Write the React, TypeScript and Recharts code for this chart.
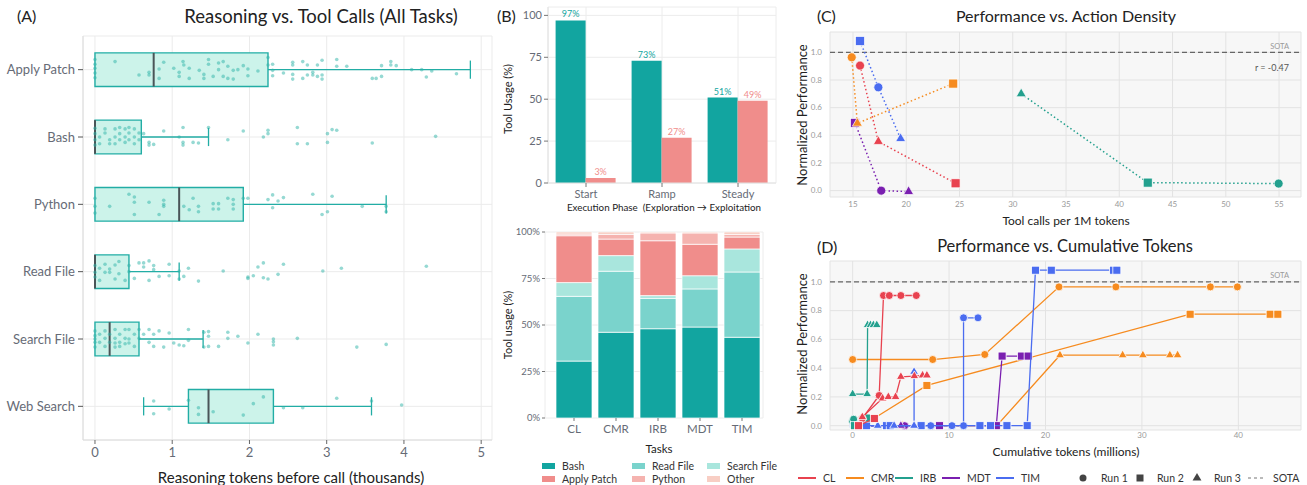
import React from 'react';
import {
  ScatterChart, Scatter, XAxis, YAxis, CartesianGrid, ReferenceArea, ReferenceLine,
  BarChart, Bar, LabelList,
} from 'recharts';

// ---------------- Panel A data ----------------
const toolNames = ['Apply Patch', 'Bash', 'Python', 'Read File', 'Search File', 'Web Search'];
const boxQ1 = [0, 0, 0, 0, 0, 1.21];
const boxMedian = [0.76, 0, 1.09, 0, 0.19, 1.47];
const boxQ3 = [2.24, 0.6, 1.92, 0.44, 0.57, 2.31];
const whiskerLow = [0, 0, 0, 0, 0, 0.63];
const whiskerHigh = [4.86, 1.47, 3.77, 1.09, 1.4, 3.58];

const jitterApplyPatch = [[0,0.15],[0,0.08],[0,0.02],[0,-0.05],[0,-0.12],[0.26,0.12],[0.57,-0.08],[0.70,-0.04],[0.70,-0.08],[0.83,0.01],[0.83,-0.13],[0.89,0.11],[1.02,0.02],[1.09,-0.04],[1.09,-0.10],[1.14,0.12],[1.15,0.07],[1.22,0.02],[1.22,-0.13],[1.35,-0.01],[1.41,-0.07],[1.41,-0.13],[1.47,0.15],[1.47,0.08],[1.53,-0.10],[1.60,0.10],[1.60,0.0],[1.66,0.12],[1.66,-0.10],[1.72,0.05],[1.72,-0.13],[1.79,-0.01],[1.79,-0.14],[1.85,0],[1.92,0.06],[1.98,0.01],[1.98,-0.09],[2.11,-0.02],[2.24,0.18],[2.24,0.07],[2.30,0.08],[2.30,-0.01],[2.30,-0.09],[2.44,-0.05],[2.56,0.11],[2.56,0.07],[2.56,-0.07],[2.56,-0.14],[2.69,0.12],[2.69,-0.13],[2.75,0.07],[2.75,-0.08],[2.82,-0.04],[2.82,-0.08],[2.88,0.07],[2.88,-0.10],[2.94,0.14],[2.94,-0.08],[2.94,-0.14],[3.13,0.15],[3.13,0.05],[3.26,0.05],[3.59,-0.13],[3.64,-0.13],[3.71,0.06],[3.71,-0.10],[3.83,0.12],[3.83,0.07],[3.90,0.06],[4.10,0],[4.23,0],[4.29,-0.11],[4.36,-0.02],[4.68,-0.06]];
const jitterBash = [[0,0.13],[0,0.05],[0,-0.04],[0,-0.12],[0.06,-0.10],[0.06,0],[0.13,0.12],[0.13,0.06],[0.19,-0.04],[0.19,-0.10],[0.26,0.12],[0.26,0],[0.26,-0.10],[0.32,0.14],[0.32,0.05],[0.32,-0.04],[0.39,0.12],[0.39,0],[0.39,-0.08],[0.44,0.14],[0.44,0.06],[0.44,-0.04],[0.51,0.12],[0.51,0],[0.51,-0.10],[0.57,0.06],[0.57,-0.04],[0.63,0.05],[0.70,-0.08],[0.70,-0.12],[0.76,-0.11],[0.89,0.09],[1.09,0],[1.14,0.14],[1.14,-0.08],[1.14,-0.12],[1.27,-0.08],[1.34,-0.09],[1.47,0.14],[1.72,-0.04],[1.92,0.09],[2.18,0],[2.24,0.10],[2.24,0.05],[2.62,0.14],[2.62,-0.10],[2.75,-0.10],[3.01,-0.08],[3.01,0.05],[3.07,0.11],[3.13,0.10],[3.59,-0.09],[4.41,0.01]];
const jitterPython = [[0,0.09],[0,-0.03],[0,-0.13],[0.19,-0.03],[0.44,0.15],[0.51,0.11],[0.51,0.03],[0.51,-0.15],[0.70,0.03],[0.83,-0.15],[0.89,0.06],[0.89,0],[0.89,-0.03],[1.15,-0.03],[1.22,-0.08],[1.27,0.09],[1.34,-0.03],[1.34,-0.11],[1.53,0.01],[1.53,-0.07],[1.60,0.01],[1.60,-0.07],[1.72,0.09],[1.79,0.07],[1.79,0],[1.79,-0.07],[1.92,0.09],[1.98,0.09],[2.24,0.07],[2.30,0.14],[2.30,-0.05],[2.37,0.05],[2.44,0.10],[2.82,0.15],[2.94,-0.15],[3.01,-0.11],[3.07,0.12],[3.46,-0.03],[3.77,-0.03],[3.77,-0.11]];
const jitterReadFile = [[0,0.09],[0,-0.01],[0,-0.08],[0.06,0.05],[0.06,-0.13],[0.13,0.11],[0.13,-0.01],[0.19,0.04],[0.19,-0.01],[0.26,0.10],[0.26,-0.11],[0.31,0.15],[0.31,-0.03],[0.39,-0.13],[0.44,0.09],[0.44,0],[0.51,-0.10],[0.57,0.13],[0.63,0.13],[0.63,0.07],[0.70,0.16],[0.70,-0.13],[0.76,0.09],[0.76,0.03],[0.83,-0.07],[0.96,0.11],[0.96,-0.06],[1.09,0.01],[1.09,-0.11],[1.15,-0.07],[1.21,0.05],[1.34,-0.14],[1.66,0.01],[1.98,-0.08],[1.98,-0.10],[2.05,-0.06],[2.11,0.07],[2.18,0.13],[2.18,-0.09],[2.24,-0.11],[2.37,-0.04],[2.44,0.11],[2.95,0.01],[3.19,0.05],[4.29,0.08]];
const jitterSearchFile = [[0,0.12],[0,0.05],[0,0],[0,-0.05],[0,-0.12],[0.06,0.07],[0.06,-0.05],[0.13,0.12],[0.13,0.01],[0.13,-0.11],[0.19,0.07],[0.19,-0.05],[0.26,0.14],[0.26,0.01],[0.26,-0.06],[0.26,-0.12],[0.32,0.07],[0.32,-0.05],[0.32,-0.11],[0.39,0.14],[0.39,0.01],[0.39,-0.07],[0.44,0.14],[0.44,0],[0.44,-0.06],[0.51,0.07],[0.51,-0.11],[0.57,0.14],[0.57,0.01],[0.63,0.07],[0.70,0.14],[0.70,-0.05],[0.76,0.07],[0.76,-0.11],[0.83,0.12],[0.89,-0.12],[0.96,0.09],[1.02,-0.06],[1.09,-0.09],[1.15,-0.10],[1.21,0.14],[1.21,-0.02],[1.41,-0.12],[1.41,0.10],[1.47,0.11],[1.47,0.04],[1.47,-0.11],[1.60,-0.11],[1.72,0.10],[1.72,0.01],[1.85,0.04],[1.98,-0.06],[2.11,0.07],[2.31,0],[2.31,-0.04],[2.31,-0.09],[2.62,0.01],[3.39,-0.12],[3.77,-0.08]];
const jitterWebSearch = [[0.76,0.08],[0.76,-0.11],[0.96,-0.04],[1.21,0.09],[1.34,-0.02],[1.34,-0.12],[1.53,-0.08],[1.92,-0.13],[2.05,0.04],[2.18,0.14],[2.44,-0.02],[2.69,-0.02],[3.13,0.12],[3.58,0.08],[3.97,0.02]];
const toolJitter = [jitterApplyPatch, jitterBash, jitterPython, jitterReadFile, jitterSearchFile, jitterWebSearch];

// ---------------- Panel B data ----------------
const phases = ['Start', 'Ramp', 'Steady'];
const explorationPct = [97, 73, 51];
const exploitationPct = [3, 27, 49];

const tasks = ['CL', 'CMR', 'IRB', 'MDT', 'TIM'];
const usageBash = [30.6, 46.1, 48.0, 48.9, 43.4];
const usageReadFile = [34.8, 32.8, 16.3, 20.5, 35.1];
const usageSearchFile = [7.4, 8.4, 1.5, 7.1, 12.4];
const usageApplyPatch = [25.2, 8.9, 29.5, 16.9, 6.4];
const usagePython = [0.9, 2.5, 4.2, 6.1, 1.4];
const usageOther = [1.1, 1.3, 0.5, 0.5, 1.3];

// ---------------- Panel C data ----------------
const densityCL = [{ x: 15.66, y: 0.904, run: 1 }, { x: 17.38, y: 0.355, run: 3 }, { x: 24.63, y: 0.053, run: 2 }];
const densityCMR = [{ x: 14.88, y: 0.964, run: 1 }, { x: 15.41, y: 0.487, run: 3 }, { x: 24.41, y: 0.774, run: 2 }];
const densityIRB = [{ x: 30.79, y: 0.70, run: 3 }, { x: 42.67, y: 0.058, run: 2 }, { x: 54.96, y: 0.051, run: 1 }];
const densityMDT = [{ x: 15.19, y: 0.49, run: 2 }, { x: 17.65, y: 0.0, run: 1 }, { x: 20.22, y: -0.007, run: 3 }];
const densityTIM = [{ x: 15.66, y: 1.082, run: 2 }, { x: 17.38, y: 0.747, run: 1 }, { x: 19.47, y: 0.376, run: 3 }];

// ---------------- Panel D data ----------------
const cumCL1 = [[1.0, 0.05], [2.75, 0.21], [3.2, 0.905], [3.8, 0.905], [5.0, 0.905], [6.6, 0.905]];
const cumCL2 = [[0.6, 0.0], [2.25, 0.05]];
const cumCL3 = [[1.0, 0.06], [3.1, 0.19], [3.7, 0.2], [4.45, 0.2], [5.0, 0.34], [6.4, 0.345], [7.25, 0.35], [7.7, 0.35]];
const cumCMR1 = [[0, 0.46], [8.3, 0.46], [13.7, 0.495], [21.4, 0.965], [27.3, 0.965], [37.1, 0.965], [39.9, 0.965]];
const cumCMR2 = [[0.5, 0.0], [2.2, 0.05], [7.7, 0.28], [35.0, 0.775], [43.3, 0.775], [44.1, 0.775]];
const cumCMR3 = [[0.4, 0.0], [5.2, 0.0], [14.95, 0.0], [21.5, 0.49], [28.0, 0.49], [30.1, 0.49], [32.9, 0.49], [33.7, 0.49]];
const cumIRB1 = [[0, 0.03], [0.1, 0.045]];
const cumIRB2 = [[0.2, 0.0], [1.5, 0.053]];
const cumIRB3 = [[0, 0.22], [1.5, 0.22], [1.55, 0.7], [1.85, 0.7], [2.15, 0.7], [2.5, 0.7]];
const cumMDT1 = [[0.2, 0], [5.4, 0]];
const cumMDT2 = [[0.3, 0], [9.0, 0], [14.9, 0], [15.5, 0.484], [17.5, 0.484], [18.2, 0.484]];
const cumMDT3 = [[0.4, 0], [5.0, 0]];
const cumTIM1 = [[0.1, 0], [8.1, 0], [10.3, 0], [11.5, 0], [11.5, 0.75], [13.0, 0.75]];
const cumTIM2 = [[0.2, 0], [1.45, 0], [3.5, 0], [3.9, 0], [7.1, 0], [13.2, 0], [14.3, 0], [16.0, 0], [18.1, 0], [18.96, 1.081], [20.6, 1.081], [27.06, 1.081], [27.4, 1.081]];
const cumTIM3 = [[0.3, 0], [2.6, 0], [4.3, 0], [6.37, 0], [6.37, 0.375]];

// ---------------- styles ----------------
const FONT = "Lato, 'Noto Sans', sans-serif";
const TEAL = '#12A5A0';
const PINK = '#F08D8B';
const usageColors = ['#12A5A0', '#7AD3CC', '#A9E6DD', '#F08D8B', '#F5B3AF', '#F8CEC4'];
const usageNames = ['Bash', 'Read File', 'Search File', 'Apply Patch', 'Python', 'Other'];
const taskColor: Record<string, string> = { CL: '#E8424F', CMR: '#F68B1F', IRB: '#23A08E', MDT: '#7A1FB0', TIM: '#4A6CF0' };

function Txt({ x, y, size = 12, color = '#222', anchor = 'middle', rotate = false, children }: any) {
  const tx = anchor === 'middle' ? '-50%' : anchor === 'end' ? '-100%' : '0';
  return (
    <div style={{ position: 'absolute', left: x, top: y, transform: `translate(${tx}, -50%)${rotate ? ' rotate(-90deg)' : ''}`, fontSize: size, color, fontFamily: FONT, whiteSpace: 'pre', lineHeight: 1 }}>
      {children}
    </div>
  );
}

function Marker({ cx, cy, kind, color, s, sw = 0.8 }: any) {
  if (cx == null || cy == null || isNaN(cx) || isNaN(cy)) return <g />;
  if (kind === 1) return <circle cx={cx} cy={cy} r={s / 2} fill={color} stroke="#fff" strokeWidth={sw} />;
  if (kind === 2) return <rect x={cx - s / 2} y={cy - s / 2} width={s} height={s} fill={color} stroke="#fff" strokeWidth={sw} />;
  const r = s * 0.64;
  return <polygon points={`${cx},${cy - r} ${cx + r * 0.866},${cy + r * 0.5} ${cx - r * 0.866},${cy + r * 0.5}`} fill={color} stroke="#fff" strokeWidth={sw} />;
}

const tickA = { fontSize: 13, fill: '#666b76', fontFamily: FONT };
const tickSmall = { fontSize: 8, fill: '#9a9a9a', fontFamily: FONT };

function PanelA() {
  const pts = toolJitter.flatMap((arr, i) => arr.map(([x, dy]) => ({ x, y: 6 - i + dy })));
  const BOX = '#22ADA5';
  const els: any[] = [];
  toolNames.forEach((_, i) => {
    const pos = 6 - i;
    if (whiskerLow[i] < boxQ1[i]) {
      els.push(<ReferenceLine key={`wl${i}`} segment={[{ x: whiskerLow[i], y: pos }, { x: boxQ1[i], y: pos }]} stroke={BOX} strokeWidth={1.3} />);
      els.push(<ReferenceLine key={`cl${i}`} segment={[{ x: whiskerLow[i], y: pos - 0.135 }, { x: whiskerLow[i], y: pos + 0.135 }]} stroke={BOX} strokeWidth={1.3} />);
    }
    els.push(<ReferenceLine key={`wh${i}`} segment={[{ x: boxQ3[i], y: pos }, { x: whiskerHigh[i], y: pos }]} stroke={BOX} strokeWidth={1.3} />);
    els.push(<ReferenceLine key={`ch${i}`} segment={[{ x: whiskerHigh[i], y: pos - 0.135 }, { x: whiskerHigh[i], y: pos + 0.135 }]} stroke={BOX} strokeWidth={1.3} />);
    els.push(<ReferenceArea key={`b${i}`} x1={boxQ1[i]} x2={boxQ3[i]} y1={pos - 0.25} y2={pos + 0.25} fill="#CCF3EA" fillOpacity={1} stroke={BOX} strokeWidth={1.4} />);
    els.push(<ReferenceLine key={`m${i}`} segment={[{ x: boxMedian[i], y: pos - 0.25 }, { x: boxMedian[i], y: pos + 0.25 }]} stroke="#4a5558" strokeWidth={2} />);
  });
  return (
    <ScatterChart width={500} height={485} margin={{ top: 36, right: 8, bottom: 0, left: 0 }}>
      <CartesianGrid stroke="#ebebeb" />
      <XAxis type="number" dataKey="x" domain={[-0.155, 5.14]} ticks={[0, 1, 2, 3, 4, 5]} interval={0} allowDataOverflow height={45} tickSize={4} tickMargin={4} tick={tickA} axisLine={{ stroke: '#dcdcdc' }} tickLine={{ stroke: '#666' }} />
      <YAxis type="number" dataKey="y" domain={[0.5, 6.5]} ticks={[1, 2, 3, 4, 5, 6]} interval={0} allowDataOverflow width={83} tickSize={5} tickMargin={3} tickFormatter={(v: number) => toolNames[6 - v] ?? ''} tick={tickA} axisLine={{ stroke: '#dcdcdc' }} tickLine={{ stroke: '#555' }} />
      {els}
      <Scatter data={pts} isAnimationActive={false} shape={(p: any) => <circle cx={p.cx} cy={p.cy} r={1.8} fill="#2DB3A8" fillOpacity={0.5} />} />
    </ScatterChart>
  );
}

function PanelBTop() {
  const rows = phases.map((p, i) => ({ phase: p, exploration: explorationPct[i], exploitation: exploitationPct[i] }));
  const tk = { fontSize: 11, fill: '#666b76', fontFamily: FONT };
  return (
    <BarChart width={290} height={220} data={rows} margin={{ top: 7, right: 9, bottom: 0, left: 0 }} barCategoryGap="10%" barGap={0}>
      <CartesianGrid stroke="#ececec" />
      <XAxis dataKey="phase" height={37} tickSize={4} tickMargin={3} tick={tk} axisLine={{ stroke: '#e2e2e2' }} tickLine={{ stroke: '#777' }} />
      <YAxis type="number" domain={[0, 105]} ticks={[0, 25, 50, 75, 100]} interval={0} allowDataOverflow width={53} tickSize={4} tickMargin={2} tick={tk} axisLine={{ stroke: '#e2e2e2' }} tickLine={{ stroke: '#777' }} />
      <Bar dataKey="exploration" fill={TEAL} isAnimationActive={false}>
        <LabelList dataKey="exploration" position="top" offset={3} formatter={(v: any) => `${v}%`} fill={TEAL} fontSize={9} fontFamily={FONT} />
      </Bar>
      <Bar dataKey="exploitation" fill={PINK} isAnimationActive={false}>
        <LabelList dataKey="exploitation" position="top" offset={3} formatter={(v: any) => `${v}%`} fill={PINK} fontSize={9} fontFamily={FONT} />
      </Bar>
    </BarChart>
  );
}

function PanelBBottom() {
  const rows = tasks.map((t, i) => ({ task: t, Bash: usageBash[i], ReadFile: usageReadFile[i], SearchFile: usageSearchFile[i], ApplyPatch: usageApplyPatch[i], Python: usagePython[i], Other: usageOther[i] }));
  const keys = ['Bash', 'ReadFile', 'SearchFile', 'ApplyPatch', 'Python', 'Other'];
  const tkY = { fontSize: 9.5, fill: '#666b76', fontFamily: FONT };
  const tkX = { fontSize: 11.5, fill: '#666b76', fontFamily: FONT };
  return (
    <BarChart width={290} height={265} data={rows} margin={{ top: 12, right: 22, bottom: 47, left: 0 }} barSize={36}>
      <CartesianGrid stroke="#ececec" />
      <XAxis dataKey="task" height={20} padding={{ left: 8, right: 0 }} tickSize={3} tickMargin={4} tick={tkX} axisLine={false} tickLine={{ stroke: '#777' }} />
      <YAxis type="number" domain={[0, 100]} ticks={[0, 25, 50, 75, 100]} interval={0} allowDataOverflow width={50} tickSize={3} tickMargin={2} tickFormatter={(v: number) => `${v}%`} tick={tkY} axisLine={false} tickLine={{ stroke: '#777' }} />
      {keys.map((k, i) => (
        <Bar key={k} dataKey={k} stackId="a" fill={usageColors[i]} stroke="#fff" strokeWidth={0.7} isAnimationActive={false} />
      ))}
    </BarChart>
  );
}

function PanelC() {
  const order: [string, any[]][] = [['MDT', densityMDT], ['CL', densityCL], ['CMR', densityCMR], ['IRB', densityIRB], ['TIM', densityTIM]];
  return (
    <ScatterChart width={527} height={230} margin={{ top: 32, right: 6, bottom: 0, left: 0 }}>
      <CartesianGrid stroke="#e3e3e3" fill="#f7f7f7" fillOpacity={1} />
      <XAxis type="number" dataKey="x" domain={[12.84, 57.06]} ticks={[15, 20, 25, 30, 35, 40, 45, 50, 55]} interval={0} allowDataOverflow height={33} tickLine={false} axisLine={false} tickSize={3} tickMargin={1} tick={tickSmall} />
      <YAxis type="number" dataKey="y" domain={[-0.046, 1.147]} ticks={[0, 0.2, 0.4, 0.6, 0.8, 1.0]} interval={0} allowDataOverflow width={50} tickLine={false} axisLine={false} tickSize={6} tickMargin={2} tickFormatter={(v: number) => v.toFixed(1)} tick={tickSmall} />
      <ReferenceLine y={1} stroke="#666" strokeDasharray="5 3" strokeWidth={1.1} />
      {order.map(([t, d]) => (
        <Scatter key={t} data={d} fill={taskColor[t]} isAnimationActive={false}
          line={{ stroke: taskColor[t], strokeWidth: 1.5, strokeDasharray: '1.5 2.5' }}
          shape={(p: any) => <Marker cx={p.cx} cy={p.cy} kind={p.payload?.run} color={taskColor[t]} s={9} sw={0.7} />} />
      ))}
    </ScatterChart>
  );
}

function PanelD() {
  const series: [string, number, number[][]][] = [
    ['CMR', 1, cumCMR1], ['CMR', 2, cumCMR2], ['CMR', 3, cumCMR3],
    ['MDT', 1, cumMDT1], ['MDT', 2, cumMDT2], ['MDT', 3, cumMDT3],
    ['TIM', 1, cumTIM1], ['TIM', 2, cumTIM2], ['TIM', 3, cumTIM3],
    ['IRB', 1, cumIRB1], ['IRB', 2, cumIRB2], ['IRB', 3, cumIRB3],
    ['CL', 1, cumCL1], ['CL', 2, cumCL2], ['CL', 3, cumCL3],
  ];
  return (
    <ScatterChart width={527} height={215} margin={{ top: 31, right: 6, bottom: 0, left: 0 }}>
      <CartesianGrid stroke="#e3e3e3" fill="#f7f7f7" fillOpacity={1} />
      <XAxis type="number" dataKey="x" domain={[-2.35, 46.5]} ticks={[0, 10, 20, 30, 40]} interval={0} allowDataOverflow height={15} tickLine={false} axisLine={false} tickSize={1} tickMargin={1} tick={tickSmall} />
      <YAxis type="number" dataKey="y" domain={[-0.03, 1.145]} ticks={[0, 0.2, 0.4, 0.6, 0.8, 1.0]} interval={0} allowDataOverflow width={50} tickLine={false} axisLine={false} tickSize={6} tickMargin={2} tickFormatter={(v: number) => v.toFixed(1)} tick={tickSmall} />
      <ReferenceLine y={1} stroke="#666" strokeDasharray="5 3" strokeWidth={1.1} />
      {series.map(([t, run, pts]) => (
        <Scatter key={`${t}${run}`} data={pts.map(([x, y]) => ({ x, y }))} fill={taskColor[t]} isAnimationActive={false}
          line={{ stroke: taskColor[t], strokeWidth: 1.3 }}
          shape={(p: any) => <Marker cx={p.cx} cy={p.cy} kind={run} color={taskColor[t]} s={8} sw={0.8} />} />
      ))}
    </ScatterChart>
  );
}

function LegendB() {
  const cols = [47, 137, 212];
  return (
    <svg width={290} height={30} style={{ position: 'absolute', left: 495, top: 455 }}>
      {usageNames.map((n, i) => {
        const cx = cols[i % 3];
        const cy = i < 3 ? 11 : 24;
        return (
          <g key={n}>
            <rect x={cx} y={cy - 3} width={13} height={6} fill={usageColors[i]} />
            <text x={cx + 20} y={cy} dominantBaseline="central" fontSize={10.5} fill="#333" fontFamily={FONT}>{n}</text>
          </g>
        );
      })}
    </svg>
  );
}

function LegendD() {
  const lines: [string, number][] = [['CL', 18], ['CMR', 66], ['IRB', 115], ['MDT', 162], ['TIM', 216]];
  const y = 23;
  const fs = 10.5;
  return (
    <svg width={527} height={30} style={{ position: 'absolute', left: 780, top: 455 }}>
      {lines.map(([n, x]) => (
        <g key={n}>
          <line x1={x} x2={x + 18} y1={y} y2={y} stroke={taskColor[n]} strokeWidth={2} />
          <text x={x + 25} y={y} dominantBaseline="central" fontSize={fs} fill="#333" fontFamily={FONT}>{n}</text>
        </g>
      ))}
      <Marker cx={303} cy={y} kind={1} color="#444" s={7} sw={0} />
      <text x={321} y={y} dominantBaseline="central" fontSize={fs} fill="#333" fontFamily={FONT}>Run 1</text>
      <Marker cx={360} cy={y} kind={2} color="#444" s={7} sw={0} />
      <text x={377} y={y} dominantBaseline="central" fontSize={fs} fill="#333" fontFamily={FONT}>Run 2</text>
      <Marker cx={417} cy={y} kind={3} color="#444" s={8} sw={0} />
      <text x={434} y={y} dominantBaseline="central" fontSize={fs} fill="#333" fontFamily={FONT}>Run 3</text>
      <line x1={468} x2={484} y1={y} y2={y} stroke="#777" strokeWidth={1.2} strokeDasharray="3 3" />
      <text x={493} y={y} dominantBaseline="central" fontSize={fs} fill="#333" fontFamily={FONT}>SOTA</text>
    </svg>
  );
}

export default function App() {
  return (
    <div style={{ position: 'absolute', left: 0, top: 0, width: 1307, height: 485, background: '#fff', overflow: 'hidden', fontFamily: FONT }}>
      <div style={{ position: 'absolute', left: 0, top: 0 }}><PanelA /></div>
      <div style={{ position: 'absolute', left: 495, top: 0 }}><PanelBTop /></div>
      <div style={{ position: 'absolute', left: 495, top: 220 }}><PanelBBottom /></div>
      <div style={{ position: 'absolute', left: 780, top: 0 }}><PanelC /></div>
      <div style={{ position: 'absolute', left: 780, top: 230 }}><PanelD /></div>
      <LegendB />
      <LegendD />

      <Txt x={17} y={16} size={16} anchor="start">(A)</Txt>
      <Txt x={321} y={16} size={18.5}>Reasoning vs. Tool Calls (All Tasks)</Txt>
      <Txt x={291} y={477} size={15}>Reasoning tokens before call (thousands)</Txt>

      <Txt x={497} y={16} size={16} anchor="start">(B)</Txt>
      <Txt x={507} y={99} size={11} rotate>Tool Usage (%)</Txt>
      <Txt x={664} y={208} size={9.8}>Execution Phase  (Exploration → Exploitation</Txt>
      <Txt x={507} y={325} size={11} rotate>Tool usage (%)</Txt>
      <Txt x={659} y={449} size={11.5}>Tasks</Txt>

      <Txt x={817} y={16} size={16} anchor="start">(C)</Txt>
      <Txt x={1066} y={16} size={16}>Performance vs. Action Density</Txt>
      <Txt x={802} y={115} size={13} rotate>Normalized Performance</Txt>
      <Txt x={1066} y={221} size={12}>Tool calls per 1M tokens</Txt>
      <Txt x={1289} y={47} size={7.5} color="#9a9a9a" anchor="end">SOTA</Txt>
      <Txt x={1289} y={67} size={9} color="#555" anchor="end">r = -0.47</Txt>

      <Txt x={817} y={247} size={16} anchor="start">(D)</Txt>
      <Txt x={1065} y={246} size={16.5}>Performance vs. Cumulative Tokens</Txt>
      <Txt x={802} y={344} size={13} rotate>Normalized Performance</Txt>
      <Txt x={1066} y={452} size={12}>Cumulative tokens (millions)</Txt>
      <Txt x={1289} y={276} size={7.5} color="#9a9a9a" anchor="end">SOTA</Txt>
    </div>
  );
}
